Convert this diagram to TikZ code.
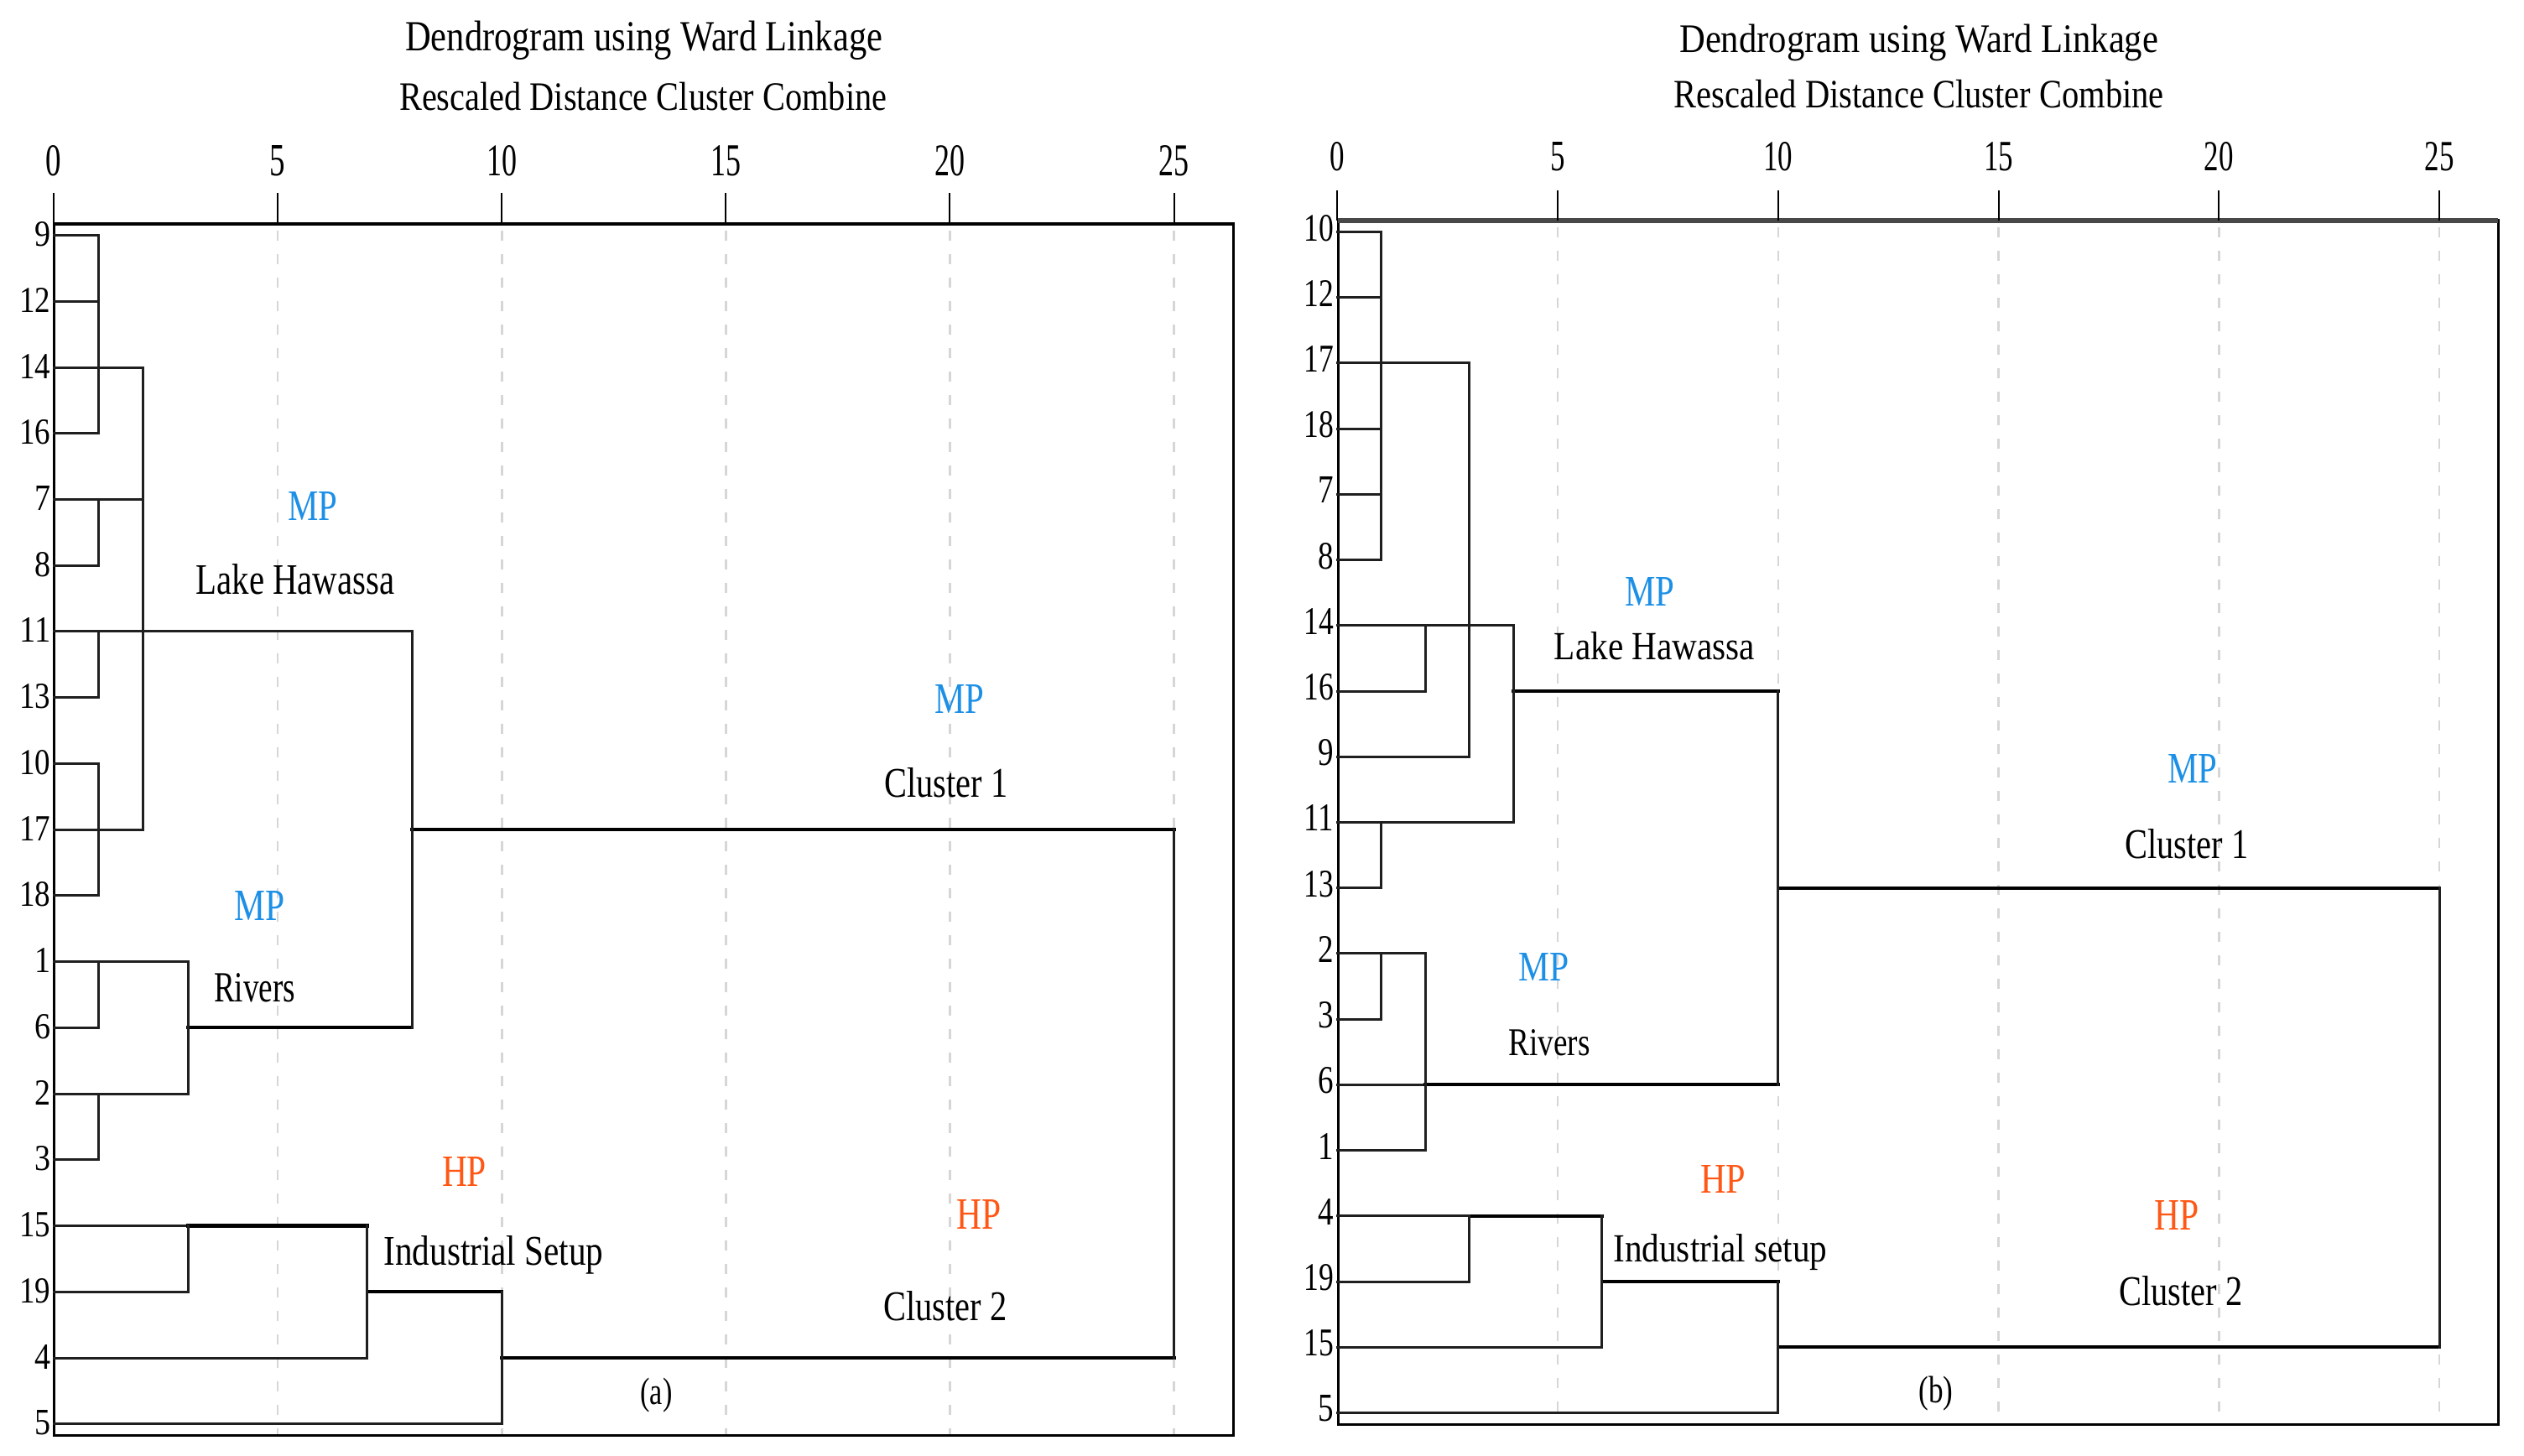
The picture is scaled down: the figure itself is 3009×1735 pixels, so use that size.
\documentclass[tikz,border=0pt]{standalone}
\usepackage{graphicx}
\usepackage{fontspec}
\setmainfont{Liberation Serif}
\definecolor{mpblue}{RGB}{28,143,230}
\definecolor{hporange}{RGB}{255,88,22}
\definecolor{gridgray}{RGB}{214,214,214}
\definecolor{framegray}{RGB}{72,72,72}
\newcommand\fitto[3]{\resizebox{#1pt}{#2pt}{#3}}
\newcommand\dhl[4][tree]{\draw[#1] (#2 -| #3) -- (#2 -| #4);}
\newcommand\dvl[4][tree]{\draw[#1] (#3 -| #2) -- (#4 -| #2);}
\begin{document}
\begin{tikzpicture}[x=1pt,y=-1pt,
  tree/.style={line width=3pt,line cap=rect,black!88},
  ctree/.style={line width=4.2pt,line cap=rect,black},
  gridl/.style={gridgray,line width=2.6pt,dash pattern=on 12pt off 16pt,dash phase=-8pt},
  framel/.style={line width=3pt,black},
  tickl/.style={line width=2pt,black},
  txt/.style={inner sep=0pt,anchor=base,text=black},
  mp/.style={txt,text=mpblue},
  hp/.style={txt,text=hporange},
  leafl/.style={inner sep=0pt,anchor=base east,text=black},
]
\useasboundingbox (0,0) rectangle (3009,1735);
\fill[white] (0,0) rectangle (3009,1735);

% ================= Panel (a) =================
\coordinate (ATL) at (64.5,266.7);
\coordinate (ABR) at (1470.4,1711);
\coordinate (TAy) at (0,209);
\foreach \d in {0,1,2,3,5,7,8,10,15,20,25} \coordinate (Ad\d) at ({64+53.42*\d},0);
\foreach \lab [count=\i from 0] in {9,12,14,16,7,8,11,13,10,17,18,1,6,2,3,15,19,4,5} {
  \coordinate (A\lab) at (64,{280.6+78.73*\i});
  \pgfmathsetmacro\w{\lab>9?37:19}
  \node[leafl] (LA\lab) at (60.5,{280.6+78.73*\i+13}) {\fitto{\w}{29}{\lab}};
}
\foreach \d in {5,10,15,20,25} \draw[gridl] (Ad\d |- ATL) -- (Ad\d |- ABR);
\draw[framel] (ATL) rectangle (ABR);
\draw[line width=4pt] (ATL) -- (ATL -| ABR);
\foreach \d in {0,5,10,15,20,25} {
  \draw[tickl] (Ad\d |- ATL) -- ++(0,-36.7);
  \pgfmathsetmacro\w{\d>9?36:18.5}
  \node[txt] (TA\d) at (Ad\d |- TAy) {\fitto{\w}{36}{\d}};
}
% leaf segments
\foreach \lab in {9,12,14,16,7,8,11,13,10,17,18,1,6,2,3} {\dhl{A\lab}{Ad0}{Ad1}}
\dhl{A15}{Ad0}{Ad3}
\dhl{A19}{Ad0}{Ad3}
\dhl{A4}{Ad0}{Ad7}
\dhl{A5}{Ad0}{Ad10}
% cluster segments
\dhl{A14}{Ad1}{Ad2}
\dhl{A7}{Ad1}{Ad2}
\dhl{A11}{Ad1}{Ad8}
\dhl{A17}{Ad1}{Ad2}
\dhl[ctree]{A17}{Ad8}{Ad25}
\dhl{A1}{Ad1}{Ad3}
\dhl{A2}{Ad1}{Ad3}
\dhl[ctree]{A6}{Ad3}{Ad8}
\dhl[ctree]{A15}{Ad3}{Ad7}
\dhl[ctree]{A19}{Ad7}{Ad10}
\dhl[ctree]{A4}{Ad10}{Ad25}
% verticals
\dvl{Ad1}{A9}{A16}
\dvl{Ad1}{A7}{A8}
\dvl{Ad1}{A11}{A13}
\dvl{Ad1}{A10}{A18}
\dvl{Ad1}{A1}{A6}
\dvl{Ad1}{A2}{A3}
\dvl{Ad2}{A14}{A17}
\dvl{Ad3}{A1}{A2}
\dvl{Ad3}{A15}{A19}
\dvl{Ad7}{A15}{A4}
\dvl{Ad8}{A11}{A6}
\dvl{Ad10}{A19}{A5}
\dvl{Ad25}{A17}{A4}
% texts
\node[txt] (A-t1) at (767.7,60) {\fitto{569}{35.5}{Dendrogram using Ward Linkage}};
\node[txt] (A-t2) at (766.7,131.7) {\fitto{581}{33.4}{Rescaled Distance Cluster Combine}};
\node[mp] (A-mp1) at (373,620) {\fitto{59}{34}{MP}};
\node[txt] (A-lake) at (352,708) {\fitto{237}{36}{Lake Hawassa}};
\node[mp] (A-mp2) at (309.5,1097) {\fitto{60}{35}{MP}};
\node[txt] (A-riv) at (303.7,1194) {\fitto{97}{34}{Rivers}};
\node[hp] (A-hp1) at (553.5,1414) {\fitto{53}{35}{HP}};
\node[txt] (A-ind) at (588.5,1508.7) {\fitto{262}{35}{Industrial Setup}};
\node[mp] (A-mp3) at (1144,850) {\fitto{59}{34}{MP}};
\node[txt] (A-c1) at (1128,950) {\fitto{147}{35}{Cluster 1}};
\node[hp] (A-hp2) at (1167,1465) {\fitto{53}{35}{HP}};
\node[txt] (A-c2) at (1127,1574) {\fitto{147}{35}{Cluster 2}};
\node[txt] (A-lab) at (782.5,1674) {\fitto{38}{31.5}{(a)}};

% ================= Panel (b) =================
\coordinate (BTL) at (1595,262.5);
\coordinate (BBR) at (2978,1698.5);
\coordinate (TBy) at (0,203.3);
\foreach \d in {0,1,2,3,4,5,6,10,15,20,25} \coordinate (Bd\d) at ({1594.3+52.55*\d},0);
\foreach \lab [count=\i from 0] in {10,12,17,18,7,8,14,16,9,11,13,2,3,6,1,4,19,15,5} {
  \coordinate (B\lab) at (1594.3,{276.5+78.22*\i});
  \pgfmathsetmacro\w{\lab>9?35.5:18.5}
  \node[leafl] (LB\lab) at (1590,{276.5+78.22*\i+10.5}) {\fitto{\w}{31}{\lab}};
}
\foreach \d in {5,10,15,20,25} \draw[gridl] (Bd\d |- BTL) -- (Bd\d |- BBR);
\draw[framel] (BTL) rectangle (BBR);
\draw[line width=6pt,framegray] (BTL) -- (BTL -| BBR);
\foreach \d in {0,5,10,15,20,25} {
  \draw[tickl] (Bd\d |- BTL) -- ++(0,-35.5);
  \pgfmathsetmacro\w{\d>9?35:17.5}
  \node[txt] (TB\d) at (Bd\d |- TBy) {\fitto{\w}{34}{\d}};
}
% leaf segments
\foreach \lab in {10,12,17,18,7,8,11,13,2,3} {\dhl{B\lab}{Bd0}{Bd1}}
\foreach \lab in {14,16,6,1} {\dhl{B\lab}{Bd0}{Bd2}}
\dhl{B9}{Bd0}{Bd3}
\dhl{B4}{Bd0}{Bd3}
\dhl{B19}{Bd0}{Bd3}
\dhl{B15}{Bd0}{Bd6}
\dhl{B5}{Bd0}{Bd10}
% cluster segments
\dhl{B17}{Bd1}{Bd3}
\dhl{B14}{Bd2}{Bd4}
\dhl[ctree]{B16}{Bd4}{Bd10}
\dhl{B11}{Bd1}{Bd4}
\dhl[ctree]{B13}{Bd10}{Bd25}
\dhl{B2}{Bd1}{Bd2}
\dhl[ctree]{B6}{Bd2}{Bd10}
\dhl[ctree]{B4}{Bd3}{Bd6}
\dhl[ctree]{B19}{Bd6}{Bd10}
\dhl[ctree]{B15}{Bd10}{Bd25}
% verticals
\dvl{Bd1}{B10}{B8}
\dvl{Bd1}{B11}{B13}
\dvl{Bd1}{B2}{B3}
\dvl{Bd2}{B14}{B16}
\dvl{Bd2}{B2}{B1}
\dvl{Bd3}{B17}{B9}
\dvl{Bd3}{B4}{B19}
\dvl{Bd4}{B14}{B11}
\dvl{Bd6}{B4}{B15}
\dvl{Bd10}{B16}{B6}
\dvl{Bd10}{B19}{B5}
\dvl{Bd25}{B13}{B15}
% texts
\node[txt] (B-t1) at (2287.7,62.7) {\fitto{571}{33.5}{Dendrogram using Ward Linkage}};
\node[txt] (B-t2) at (2287.8,128.3) {\fitto{584}{33.3}{Rescaled Distance Cluster Combine}};
\node[mp] (B-mp1) at (1966.5,722) {\fitto{59}{34}{MP}};
\node[txt] (B-lake) at (1972.5,786.7) {\fitto{239}{33}{Lake Hawassa}};
\node[mp] (B-mp2) at (1840.5,1169) {\fitto{60}{33}{MP}};
\node[txt] (B-riv) at (1847,1258) {\fitto{97}{31}{Rivers}};
\node[hp] (B-hp1) at (2054,1422) {\fitto{54}{33}{HP}};
\node[txt] (B-ind) at (2051,1504) {\fitto{255}{33}{Industrial setup}};
\node[mp] (B-mp3) at (2614,933) {\fitto{59}{34}{MP}};
\node[txt] (B-c1) at (2607,1023) {\fitto{147}{35}{Cluster 1}};
\node[hp] (B-hp2) at (2595,1466) {\fitto{53}{35}{HP}};
\node[txt] (B-c2) at (2600,1556) {\fitto{147}{35}{Cluster 2}};
\node[txt] (B-lab) at (2308,1672) {\fitto{41}{31.5}{(b)}};
\end{tikzpicture}
\end{document}
